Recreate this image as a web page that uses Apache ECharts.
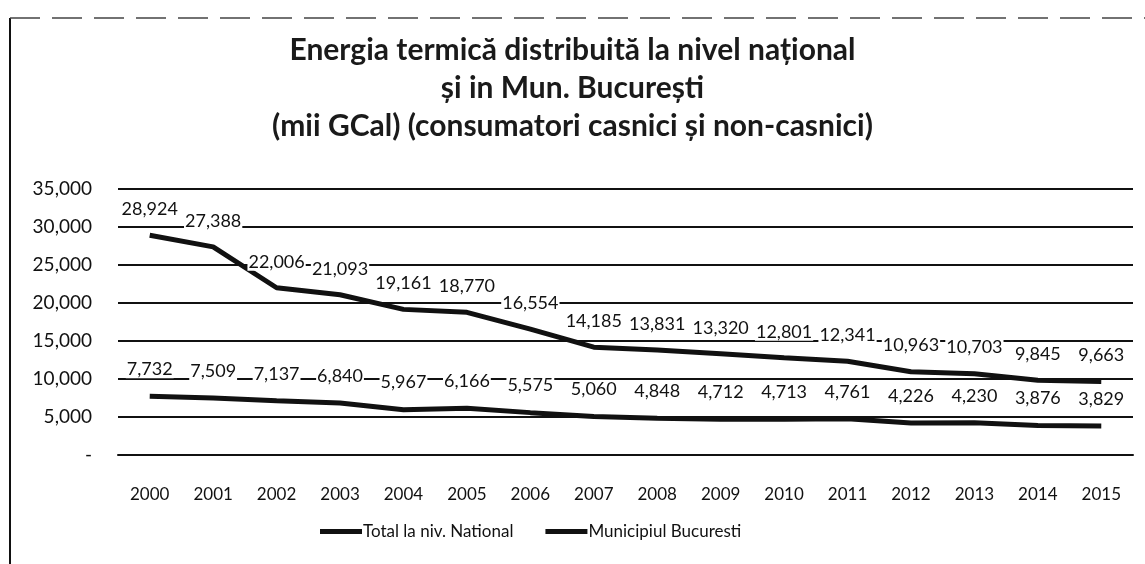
<!DOCTYPE html>
<html>
<head>
<meta charset="utf-8">
<script src="https://cdn.jsdelivr.net/npm/echarts@6/dist/echarts.min.js"></script>
<style>
html, body { margin: 0; padding: 0; background: #fff; }
#chart { width: 1145px; height: 564px; }
</style>
</head>
<body>
<div id="chart"></div>
<script>
var years = ['2000', '2001', '2002', '2003', '2004', '2005', '2006', '2007',
    '2008', '2009', '2010', '2011', '2012', '2013', '2014', '2015'];
var national = [28924, 27388, 22006, 21093, 19161, 18770, 16554, 14185,
    13831, 13320, 12801, 12341, 10963, 10703, 9845, 9663];
var bucuresti = [7732, 7509, 7137, 6840, 5967, 6166, 5575, 5060,
    4848, 4712, 4713, 4761, 4226, 4230, 3876, 3829];
var seriesNames = ['Total la niv. National', 'Municipiul Bucuresti'];
var titleText = 'Energia termică distribuită la nivel național\nși in Mun. București\n(mii GCal) (consumatori casnici și non-casnici)';

var font = 'Lato, "Open Sans", sans-serif';

// format ca in Excel: 0 -> "-", altfel cu virgula
function fmt(v) {
    if (v === 0) return '-';
    return v.toLocaleString('en-US');
}

var myChart = echarts.init(document.getElementById('chart'));
var option = {
    backgroundColor: '#fff',
    textStyle: { fontFamily: font, color: '#111' },
    title: {
        text: titleText,
        left: 'center',
        top: 26,
        textStyle: {
            fontFamily: font,
            fontSize: 30,
            fontWeight: 'bold',
            color: '#1a1a1a',
            lineHeight: 38
        }
    },
    legend: {
        data: seriesNames,
        bottom: 19,
        left: 315,
        itemGap: 32,
        itemWidth: 42,
        itemHeight: 5,
        icon: 'rect',
        textStyle: { fontFamily: font, fontSize: 17, color: '#111', padding: [0, 0, 0, -4] }
    },
    grid: {
        left: 118,
        right: 12,
        top: 189,
        bottom: 109
    },
    xAxis: {
        type: 'category',
        data: years,
        boundaryGap: true,
        axisLine: { show: true, lineStyle: { color: '#111', width: 2 } },
        axisTick: { show: false },
        axisLabel: { fontFamily: font, fontSize: 17, color: '#111', margin: 31 }
    },
    yAxis: {
        type: 'value',
        min: 0,
        max: 35000,
        interval: 5000,
        axisLine: { show: false },
        axisTick: { show: false },
        axisLabel: {
            fontFamily: font,
            fontSize: 19,
            color: '#111',
            margin: 26,
            formatter: fmt
        },
        splitLine: { lineStyle: { color: '#111', width: 2 } }
    },
    series: [
        {
            name: seriesNames[0],
            type: 'line',
            data: national,
            symbol: 'circle',
            symbolSize: 0,
            color: '#111',
            lineStyle: { width: 5, color: '#111' },
            label: {
                show: true,
                position: 'top',
                distance: 17,
                fontFamily: font,
                fontSize: 18,
                color: '#111',
                backgroundColor: '#fff',
                padding: [0, 1],
                formatter: function (p) { return fmt(p.value); }
            }
        },
        {
            name: seriesNames[1],
            type: 'line',
            data: bucuresti,
            symbol: 'circle',
            symbolSize: 0,
            color: '#111',
            lineStyle: { width: 5, color: '#111' },
            label: {
                show: true,
                position: 'top',
                distance: 18,
                fontFamily: font,
                fontSize: 18,
                color: '#111',
                backgroundColor: '#fff',
                padding: [0, 1],
                formatter: function (p) { return fmt(p.value); }
            }
        }
    ],
    graphic: [
        {
            type: 'line',
            shape: { x1: 10, y1: 18, x2: 10, y2: 564 },
            style: { stroke: '#111', lineWidth: 2 }
        },
        {
            type: 'line',
            shape: { x1: 10, y1: 18, x2: 1145, y2: 18 },
            style: { stroke: '#444', lineWidth: 1.5, lineDash: [30, 12] }
        }
    ]
};
myChart.setOption(option);
</script>
</body>
</html>
